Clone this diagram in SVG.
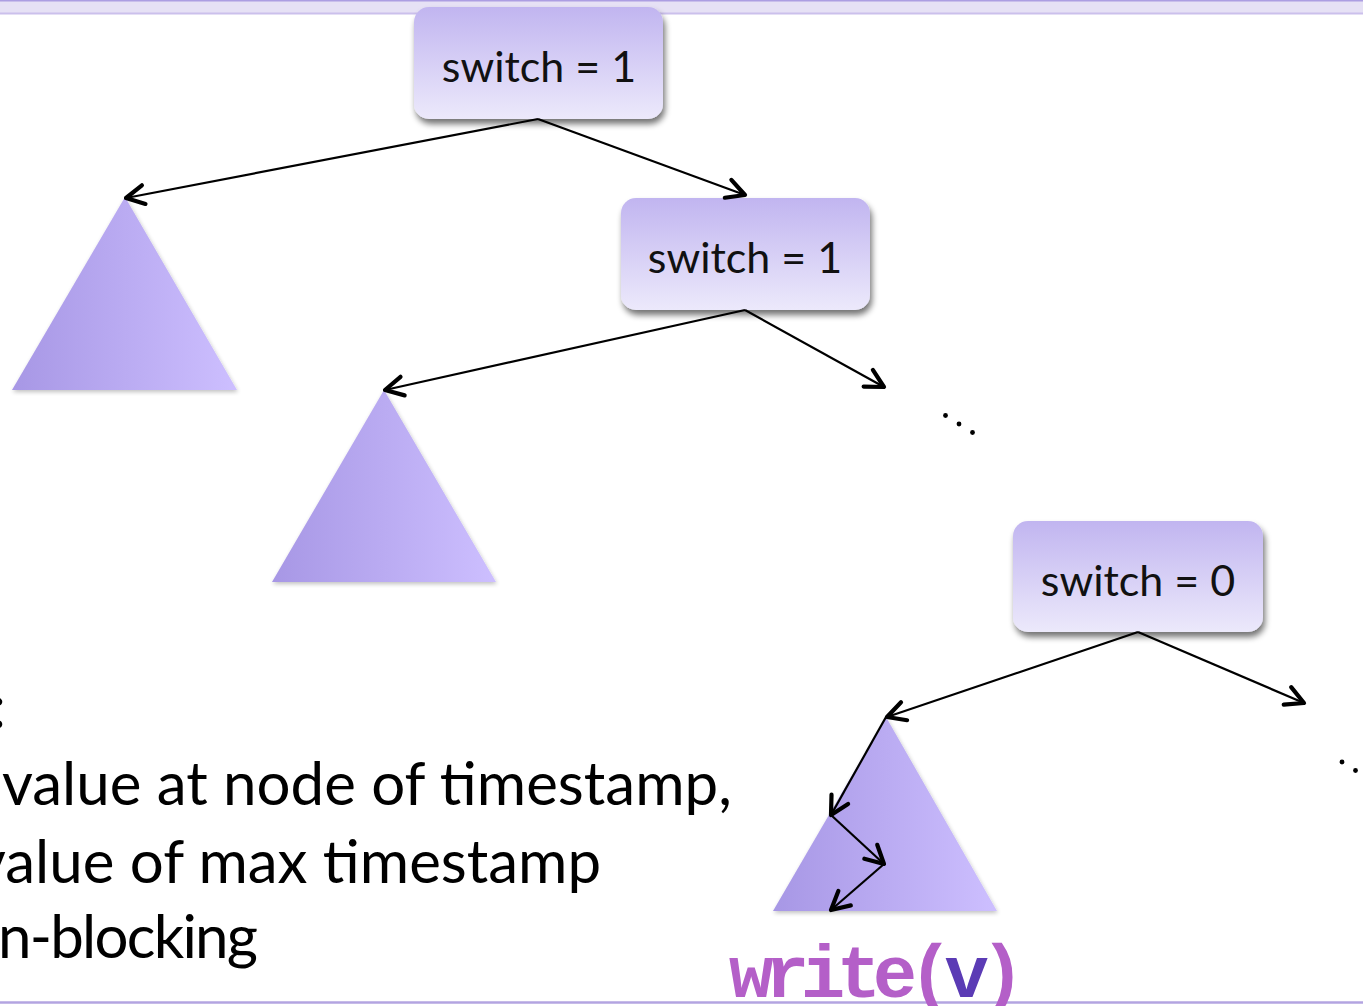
<svg xmlns="http://www.w3.org/2000/svg" width="1363" height="1006" viewBox="0 0 1363 1006">
  <style>
    .lbl { font-family: Lato, "Open Sans", sans-serif; font-size: 43px; fill: #111; text-anchor: middle; }
    .body { font-family: Lato, "Open Sans", sans-serif; font-size: 60px; fill: #000; }
    .edge { stroke: #000; stroke-width: 2.2; fill: none; marker-end: url(#vee); }
    .code { font-family: "Liberation Mono", "Courier New", monospace; font-weight: bold; font-size: 74px; letter-spacing: -8.5px; }
  </style>
  <defs>
    <linearGradient id="boxFill" x1="0" y1="0" x2="0" y2="1">
      <stop offset="0" stop-color="#c1b5f0"/>
      <stop offset="1" stop-color="#ece9fb"/>
    </linearGradient>
    <linearGradient id="triFill" x1="0" y1="0" x2="1" y2="0">
      <stop offset="0" stop-color="#a797e5"/>
      <stop offset="1" stop-color="#cdbfff"/>
    </linearGradient>
    <filter id="boxShadow" x="-10%" y="-10%" width="125%" height="135%">
      <feGaussianBlur in="SourceAlpha" stdDeviation="3"/>
      <feOffset dx="2" dy="5" result="b"/>
      <feComponentTransfer><feFuncA type="linear" slope="0.55"/></feComponentTransfer>
      <feMerge><feMergeNode/><feMergeNode in="SourceGraphic"/></feMerge>
    </filter>
    <filter id="triShadow" x="-10%" y="-10%" width="120%" height="120%">
      <feGaussianBlur in="SourceAlpha" stdDeviation="2"/>
      <feOffset dx="1" dy="2" result="b"/>
      <feComponentTransfer><feFuncA type="linear" slope="0.25"/></feComponentTransfer>
      <feMerge><feMergeNode/><feMergeNode in="SourceGraphic"/></feMerge>
    </filter>
    <marker id="vee" viewBox="0 0 26 26" refX="23" refY="13" markerWidth="26" markerHeight="26" markerUnits="userSpaceOnUse" orient="auto">
      <path d="M5 3.5 L23 13 L5 22.5" fill="none" stroke="#000" stroke-width="4.2" stroke-linecap="round" stroke-linejoin="round"/>
    </marker>
  </defs>

  <!-- slide frame -->
  <rect x="0" y="0" width="1363" height="14" fill="#e6e1f5"/>
  <line x1="0" y1="0.8" x2="1363" y2="0.8" stroke="#ac9ee2" stroke-width="1.6"/>
  <line x1="0" y1="13.5" x2="1363" y2="13.5" stroke="#cbc0ec" stroke-width="2"/>
  <line x1="0" y1="1002.5" x2="1363" y2="1002.5" stroke="#b3a4e1" stroke-width="2.5"/>

  <!-- subtrees -->
  <g id="tree-a"><polygon points="125,197 237,390 12,390" fill="url(#triFill)" filter="url(#triShadow)"/></g>
  <g id="tree-b"><polygon points="384,390 496,582 272,582" fill="url(#triFill)" filter="url(#triShadow)"/></g>
  <g id="tree-c"><polygon points="886,717 997,911 773,911" fill="url(#triFill)" filter="url(#triShadow)"/></g>

  <!-- switch nodes -->
  <g id="node-1">
    <rect x="414" y="7" width="249" height="112" rx="15" fill="url(#boxFill)" filter="url(#boxShadow)"/>
    <text class="lbl" x="539" y="82">switch = 1</text>
  </g>
  <g id="node-2">
    <rect x="621" y="198" width="249" height="112" rx="15" fill="url(#boxFill)" filter="url(#boxShadow)"/>
    <text class="lbl" x="745" y="273">switch = 1</text>
  </g>
  <g id="node-3">
    <rect x="1013" y="521" width="250" height="111" rx="15" fill="url(#boxFill)" filter="url(#boxShadow)"/>
    <text class="lbl" x="1138" y="596">switch = 0</text>
  </g>

  <!-- edges -->
  <g id="connectors">
    <line class="edge" x1="538" y1="119" x2="126" y2="198"/>
    <line class="edge" x1="538" y1="119" x2="745" y2="195"/>
    <line class="edge" x1="745" y1="310" x2="385" y2="390"/>
    <line class="edge" x1="745" y1="310" x2="884" y2="387"/>
    <line class="edge" x1="1138" y1="632" x2="887" y2="717"/>
    <line class="edge" x1="1138" y1="632" x2="1304" y2="703"/>
    <line class="edge" x1="886" y1="717" x2="831" y2="815"/>
    <line class="edge" x1="831" y1="815" x2="884" y2="864"/>
    <line class="edge" x1="884" y1="864" x2="831" y2="910"/>
  </g>

  <!-- continuation dots -->
  <g id="dots" fill="#000">
    <circle cx="945.5" cy="415.5" r="2.4"/>
    <circle cx="959" cy="424" r="2.4"/>
    <circle cx="972.5" cy="432.5" r="2.4"/>
    <circle cx="1342" cy="762" r="2.4"/>
    <circle cx="1355.5" cy="770.5" r="2.4"/>
  </g>

  <!-- read description -->
  <g id="notes">
    <text class="body" x="-9" y="728">:</text>
    <text class="body" x="2" y="805">value at node of timestamp,</text>
    <text class="body" x="-25" y="883">value of max timestamp</text>
    <text class="body" x="-2" y="958" textLength="260" lengthAdjust="spacing">n-blocking</text>
  </g>

  <g id="op">
    <text class="code" x="729" y="997" fill="#b45fc8">write(<tspan fill="#5b3bb5">v</tspan>)</text>
  </g>
</svg>
